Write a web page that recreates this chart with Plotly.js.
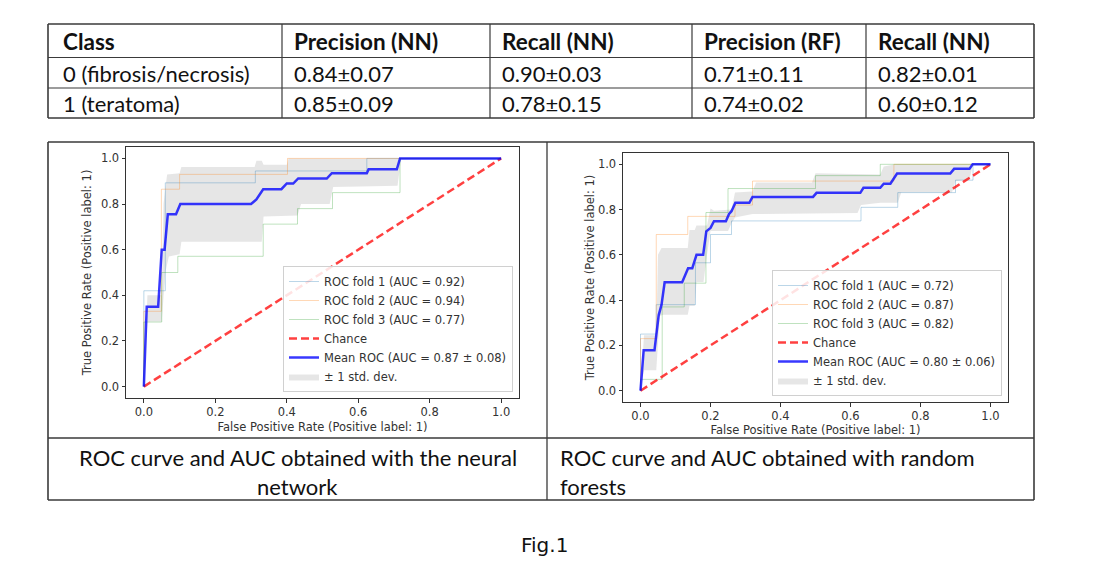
<!DOCTYPE html>
<html>
<head>
<meta charset="utf-8">
<script src="https://cdn.plot.ly/plotly-3.0.1.min.js"></script>
<style>html,body{margin:0;padding:0;background:#fff;}#chart{width:1098px;height:582px;}</style>
</head>
<body>
<div id="chart"></div>
<script>
// ---------- DATA ----------
const tableHeader = ['Class', 'Precision (NN)', 'Recall (NN)', 'Precision (RF)', 'Recall (NN)'];
const tableRow0 = ['0 (fibrosis/necrosis)', '0.84±0.07', '0.90±0.03', '0.71±0.11', '0.82±0.01'];
const tableRow1 = ['1 (teratoma)', '0.85±0.09', '0.78±0.15', '0.74±0.02', '0.60±0.12'];

const captionLeft = ['ROC curve and AUC obtained with the neural', 'network'];
const captionRight = ['ROC curve and AUC obtained with random', 'forests'];
const figLabel = 'Fig.1';

const tickVals = [0, 0.2, 0.4, 0.6, 0.8, 1.0];
const tickText = ['0.0', '0.2', '0.4', '0.6', '0.8', '1.0'];
const xTitle = 'False Positive Rate (Positive label: 1)';
const yTitle = 'True Positive Rate (Positive label: 1)';

const nnNames = ['ROC fold 1 (AUC = 0.92)', 'ROC fold 2 (AUC = 0.94)', 'ROC fold 3 (AUC = 0.77)', 'Chance', 'Mean ROC (AUC = 0.87 ± 0.08)', '± 1 std. dev.'];
const rfNames = ['ROC fold 1 (AUC = 0.72)', 'ROC fold 2 (AUC = 0.87)', 'ROC fold 3 (AUC = 0.82)', 'Chance', 'Mean ROC (AUC = 0.80 ± 0.06)', '± 1 std. dev.'];

const chanceX = [0, 1];
const chanceY = [0, 1];

// Neural network
const nnFold1X = [0, 0, 0.06, 0.06, 0.312, 0.312, 0.624, 0.624, 1];
const nnFold1Y = [0, 0.42, 0.42, 0.893, 0.893, 0.945, 0.945, 1, 1];
const nnFold2X = [0, 0, 0.049, 0.049, 0.1, 0.1, 0.402, 0.402, 1];
const nnFold2Y = [0, 0.33, 0.33, 0.865, 0.865, 0.93, 0.93, 1, 1];
const nnFold3X = [0, 0, 0.05, 0.05, 0.095, 0.095, 0.334, 0.334, 0.43, 0.43, 0.528, 0.528, 0.717, 0.717, 1];
const nnFold3Y = [0, 0.283, 0.283, 0.5, 0.5, 0.571, 0.571, 0.712, 0.712, 0.78, 0.78, 0.85, 0.85, 1, 1];
const nnMeanX = [0, 0.008, 0.04, 0.05, 0.058, 0.067, 0.09, 0.102, 0.3, 0.315, 0.334, 0.385, 0.4, 0.418, 0.432, 0.512, 0.526, 0.624, 0.629, 0.708, 0.717, 1];
const nnMeanY = [0, 0.35, 0.35, 0.6, 0.6, 0.755, 0.755, 0.8, 0.8, 0.82, 0.865, 0.865, 0.89, 0.89, 0.912, 0.912, 0.935, 0.935, 0.952, 0.952, 1, 1];
const nnUpperX = [0, 0.01, 0.05, 0.055, 0.065, 0.1, 0.105, 0.31, 0.315, 0.33, 0.335, 0.4, 0.405, 1];
const nnUpperY = [0, 0.40, 0.40, 0.80, 0.93, 0.935, 0.962, 0.962, 0.99, 0.99, 0.972, 0.972, 1, 1];
const nnLowerX = [0, 0.01, 0.05, 0.055, 0.06, 0.07, 0.1, 0.105, 0.33, 0.335, 0.43, 0.44, 0.52, 0.53, 0.71, 0.72, 1];
const nnLowerY = [0, 0.285, 0.285, 0.42, 0.5, 0.57, 0.58, 0.635, 0.635, 0.745, 0.75, 0.8, 0.8, 0.875, 0.88, 1, 1];

// Random forest
const rfFold1X = [0, 0, 0.045, 0.045, 0.157, 0.157, 0.2, 0.2, 0.26, 0.26, 0.63, 0.63, 0.735, 0.735, 0.9, 0.9, 0.95, 0.95, 1];
const rfFold1Y = [0, 0.25, 0.25, 0.38, 0.38, 0.565, 0.565, 0.69, 0.69, 0.75, 0.75, 0.81, 0.81, 0.875, 0.875, 0.93, 0.93, 1, 1];
const rfFold2X = [0, 0, 0.045, 0.045, 0.135, 0.135, 0.27, 0.27, 0.32, 0.32, 0.724, 0.724, 1];
const rfFold2Y = [0, 0.23, 0.23, 0.69, 0.69, 0.77, 0.77, 0.82, 0.82, 0.926, 0.926, 1, 1];
const rfFold3X = [0, 0, 0.062, 0.062, 0.125, 0.125, 0.187, 0.187, 0.25, 0.25, 0.5, 0.5, 0.685, 0.685, 1];
const rfFold3Y = [0, 0.05, 0.05, 0.37, 0.37, 0.475, 0.475, 0.787, 0.787, 0.893, 0.893, 0.95, 0.95, 1, 1];
const rfMeanX = [0, 0.009, 0.04, 0.052, 0.06, 0.069, 0.119, 0.136, 0.148, 0.16, 0.179, 0.188, 0.2, 0.21, 0.244, 0.253, 0.26, 0.271, 0.311, 0.32, 0.493, 0.503, 0.628, 0.637, 0.685, 0.695, 0.714, 0.733, 0.885, 0.896, 0.94, 0.949, 1];
const rfMeanY = [0, 0.179, 0.179, 0.334, 0.379, 0.479, 0.479, 0.541, 0.541, 0.6, 0.6, 0.704, 0.719, 0.749, 0.749, 0.781, 0.793, 0.83, 0.83, 0.856, 0.856, 0.874, 0.874, 0.896, 0.896, 0.914, 0.914, 0.959, 0.959, 0.98, 0.98, 1, 1];
const rfUpperX = [0, 0.01, 0.045, 0.05, 0.06, 0.135, 0.14, 0.155, 0.16, 0.19, 0.2, 0.21, 0.26, 0.27, 0.32, 0.33, 0.49, 0.5, 0.685, 0.695, 0.73, 1];
const rfUpperY = [0, 0.245, 0.245, 0.6, 0.63, 0.63, 0.71, 0.71, 0.73, 0.73, 0.805, 0.795, 0.8, 0.875, 0.88, 0.92, 0.92, 0.96, 0.955, 0.99, 1, 1];
const rfLowerX = [0, 0.01, 0.045, 0.055, 0.065, 0.135, 0.14, 0.155, 0.16, 0.18, 0.19, 0.2, 0.25, 0.26, 0.27, 0.32, 0.62, 0.63, 0.685, 0.735, 0.745, 0.89, 0.9, 0.94, 0.95, 1];
const rfLowerY = [0, 0.09, 0.09, 0.33, 0.335, 0.335, 0.375, 0.375, 0.48, 0.48, 0.6, 0.705, 0.705, 0.74, 0.765, 0.78, 0.785, 0.82, 0.83, 0.83, 0.875, 0.875, 0.925, 0.935, 1, 1];

// ---------- LAYOUT HELPERS ----------
const W = 1098, H = 582;
const px = x => x / W;
const py = y => 1 - y / H;
const plotFont = 'DejaVu Sans, sans-serif';
const docFont = 'Lato, sans-serif';
const docSize = 22;
const headSize = 22.5;
const inkPlot = '#333333';

function rocTraces(d, xa, ya, lg) {
  const base = { xaxis: xa, yaxis: ya, legend: lg, hoverinfo: 'skip', type: 'scatter', mode: 'lines' };
  return [
    Object.assign({}, base, { x: d.lowerX, y: d.lowerY, line: { width: 0, color: 'rgba(0,0,0,0)' }, showlegend: false }),
    Object.assign({}, base, { x: d.upperX, y: d.upperY, fill: 'tonexty', fillcolor: 'rgba(128,128,128,0.2)', line: { width: 0, color: 'rgba(0,0,0,0)' }, name: d.names[5], legendrank: 6 }),
    Object.assign({}, base, { x: d.f1X, y: d.f1Y, line: { width: 1, color: 'rgba(31,119,180,0.3)' }, name: d.names[0], legendrank: 1 }),
    Object.assign({}, base, { x: d.f2X, y: d.f2Y, line: { width: 1, color: 'rgba(255,127,14,0.3)' }, name: d.names[1], legendrank: 2 }),
    Object.assign({}, base, { x: d.f3X, y: d.f3Y, line: { width: 1, color: 'rgba(44,160,44,0.3)' }, name: d.names[2], legendrank: 3 }),
    Object.assign({}, base, { x: chanceX, y: chanceY, line: { width: 2.5, color: 'rgba(255,0,0,0.75)', dash: '8px,4px' }, name: d.names[3], legendrank: 4 }),
    Object.assign({}, base, { x: d.mX, y: d.mY, line: { width: 2.5, color: 'rgba(0,0,255,0.78)' }, name: d.names[4], legendrank: 5 })
  ];
}

const traces = [].concat(
  rocTraces({ lowerX: nnLowerX, lowerY: nnLowerY, upperX: nnUpperX, upperY: nnUpperY, f1X: nnFold1X, f1Y: nnFold1Y, f2X: nnFold2X, f2Y: nnFold2Y, f3X: nnFold3X, f3Y: nnFold3Y, mX: nnMeanX, mY: nnMeanY, names: nnNames }, 'x', 'y', 'legend'),
  rocTraces({ lowerX: rfLowerX, lowerY: rfLowerY, upperX: rfUpperX, upperY: rfUpperY, f1X: rfFold1X, f1Y: rfFold1Y, f2X: rfFold2X, f2Y: rfFold2Y, f3X: rfFold3X, f3Y: rfFold3Y, mX: rfMeanX, mY: rfMeanY, names: rfNames }, 'x2', 'y2', 'legend2')
);

function axis(domain, anchor, title, standoff) {
  return {
    domain: domain, anchor: anchor, range: [-0.05, 1.05], autorange: false,
    showline: true, mirror: true, linecolor: inkPlot, linewidth: 1,
    ticks: 'outside', ticklen: 3.5, tickwidth: 1, tickcolor: inkPlot,
    tickvals: tickVals, ticktext: tickText,
    tickfont: { family: plotFont, size: 11.5, color: inkPlot },
    showgrid: false, zeroline: false, automargin: false, fixedrange: true,
    title: { text: title, font: { family: plotFont, size: 11.5, color: inkPlot }, standoff: standoff }
  };
}

const legendBase = {
  xref: 'paper', yref: 'paper', xanchor: 'right', yanchor: 'bottom',
  bgcolor: 'rgba(255,255,255,0.85)', bordercolor: '#d0d0d0', borderwidth: 1,
  font: { family: plotFont, size: 11.5, color: inkPlot }, traceorder: 'normal'
};

// ---------- TABLE / FRAME SHAPES & TEXT ----------
const shapes = [];
const annotations = [];
function hline(x0, x1, y, w, c) { shapes.push({ type: 'line', xref: 'paper', yref: 'paper', x0: px(x0), x1: px(x1), y0: py(y), y1: py(y), line: { width: w, color: c } }); }
function vline(x, y0, y1, w, c) { shapes.push({ type: 'line', xref: 'paper', yref: 'paper', x0: px(x), x1: px(x), y0: py(y0), y1: py(y1), line: { width: w, color: c } }); }
function text(t, x, y, anchor, size, fam, color) {
  annotations.push({ text: t, xref: 'paper', yref: 'paper', x: px(x), y: py(y), xanchor: anchor, yanchor: 'middle', showarrow: false, font: { family: fam, size: size, color: color } });
}

const colEdges = [48, 282, 490, 692, 866, 1034];
const rowEdges = [24, 57.5, 88, 118];
const rowCenters = [42, 73, 103];
const tableInk = '#3a3a3a';
rowEdges.forEach((y, i) => hline(colEdges[0], colEdges[5], y, (i === 0 || i === 3) ? 1.6 : 1.2, tableInk));
colEdges.forEach((x, i) => vline(x, rowEdges[0], rowEdges[3], (i === 0 || i === 5) ? 1.6 : 1.2, tableInk));
[tableHeader, tableRow0, tableRow1].forEach((row, r) => {
  row.forEach((cell, c) => {
    const pad = c === 0 ? 13 : 10;
    text(r === 0 ? '<b>' + cell + '</b>' : cell, colEdges[c] + pad, rowCenters[r], 'left', r === 0 ? headSize : docSize, docFont, '#111');
  });
});

// plot frame
hline(48, 1034, 142, 1.6, tableInk);
hline(48, 1034, 438, 1.3, tableInk);
hline(48, 1034, 500, 1.6, tableInk);
vline(48, 142, 500, 1.6, tableInk);
vline(1034, 142, 500, 1.6, tableInk);
vline(547, 142, 500, 1.3, tableInk);

text(captionLeft[0], 297.5, 457, 'center', docSize, docFont, '#111');
text(captionLeft[1], 297.5, 486, 'center', docSize, docFont, '#111');
text(captionRight[0], 558, 457, 'left', docSize, docFont, '#111');
text(captionRight[1], 558, 486, 'left', docSize, docFont, '#111');
text(figLabel, 544, 545, 'center', 20, 'DejaVu Sans, sans-serif', '#111');

const layout = {
  width: W, height: H,
  margin: { l: 0, r: 0, t: 0, b: 0, pad: 0 },
  paper_bgcolor: '#ffffff', plot_bgcolor: '#ffffff',
  showlegend: true,
  xaxis: axis([px(126), px(519)], 'y', xTitle, 4),
  yaxis: axis([py(398), py(147)], 'x', yTitle, 6),
  xaxis2: axis([px(623), px(1008)], 'y2', xTitle, 2),
  yaxis2: axis([py(402), py(153)], 'x2', yTitle, 0),
  legend: Object.assign({}, legendBase, { x: px(513), y: py(392) }),
  legend2: Object.assign({}, legendBase, { x: px(1002), y: py(396) }),
  shapes: shapes,
  annotations: annotations
};

Plotly.newPlot('chart', traces, layout, { displayModeBar: false, staticPlot: true });
</script>
</body>
</html>
